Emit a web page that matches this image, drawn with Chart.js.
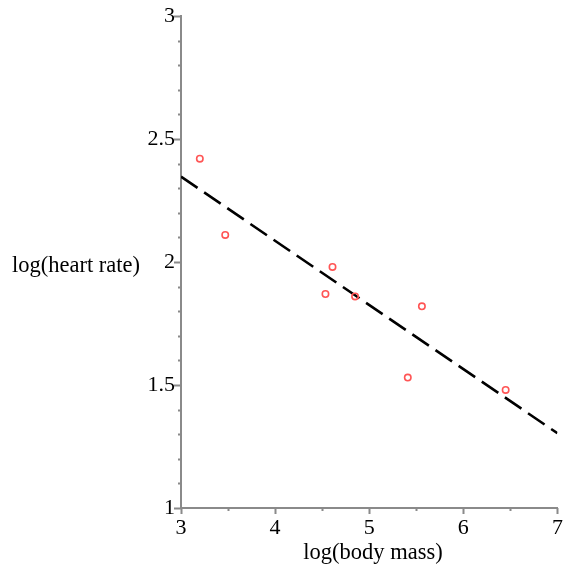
<!DOCTYPE html>
<html>
<head>
<meta charset="utf-8">
<script src="https://cdn.jsdelivr.net/npm/chart.js@4/dist/chart.umd.min.js"></script>
<style>
	body { margin: 0; background: #fff; }
	canvas { display: block; }
</style>
</head>
<body>
<canvas id="heartChart" width="563" height="565"></canvas>
<script>
// log(body mass) vs log(heart rate)
const massX = [3.2, 3.47, 4.61, 4.535, 4.85, 5.56, 5.41, 6.45]
const heartY = [2.42, 2.11, 1.98, 1.87, 1.86, 1.82, 1.53, 1.48]
// fitted line end points
const fitX = [3, 7]
const fitY = [2.347, 1.304]

const xTitle = 'log(body mass)'
const yTitle = 'log(heart rate)'

const axisGrey = '#8a8a8a'
const serif = "'Liberation Serif', 'Times New Roman', serif"

// minor / major tick marks drawn by hand (Chart.js has one length only)
const tickMarks = {
	id: 'tickMarks',
	afterDraw(chart) {
		const c = chart.ctx
		const xs = chart.scales.x
		const ys = chart.scales.y
		const left = chart.chartArea.left
		const bottom = chart.chartArea.bottom
		c.save()
		c.strokeStyle = axisGrey
		c.lineWidth = 2
		c.beginPath()
		for (let i = 0; i <= 20; i++) {
			const v = 1 + i * 0.1
			const py = Math.round(ys.getPixelForValue(v)) + 0.5
			const len = i % 5 === 0 ? 7 : 3
			c.moveTo(left, py)
			c.lineTo(left - len, py)
		}
		for (let i = 0; i <= 8; i++) {
			const v = 3 + i * 0.5
			const px = Math.round(xs.getPixelForValue(v)) + 0.5
			const len = i % 2 === 0 ? 6 : 3
			c.moveTo(px, bottom)
			c.lineTo(px, bottom + len)
		}
		c.stroke()

		// axis titles, y one kept horizontal like the original
		c.fillStyle = '#000'
		c.font = '22.5px ' + serif
		c.textBaseline = 'middle'
		c.textAlign = 'left'
		c.fillText(yTitle, 12, 266)
		c.textAlign = 'center'
		c.fillText(xTitle, 373, 553)
		c.restore()
	},
}

const ctx = document.getElementById('heartChart')

const heartChart = new Chart(ctx, {
	type: 'scatter',
	data: {
		datasets: [
			{
				label: 'data',
				data: massX.map((x, i) => ({ x: x, y: heartY[i] })),
				pointRadius: 3.2,
				pointBorderWidth: 1.6,
				borderColor: 'rgb(255, 85, 85)',
				backgroundColor: 'rgba(0,0,0,0)',
			},
			{
				label: 'fit',
				data: fitX.map((x, i) => ({ x: x, y: fitY[i] })),
				showLine: true,
				pointRadius: 0,
				borderColor: '#000',
				borderWidth: 2.6,
				borderDash: [20, 8],
			},
		],
	},
	options: {
		responsive: false,
		animation: false,
		layout: { padding: { left: 0, right: 5, top: 16, bottom: 0 } },
		plugins: {
			legend: { display: false },
			tooltip: { enabled: false },
		},
		scales: {
			x: {
				type: 'linear',
				min: 3,
				max: 7,
				grid: { drawOnChartArea: false, drawTicks: false },
				border: { color: axisGrey, width: 2 },
				ticks: {
					stepSize: 1,
					padding: 7,
					color: '#000',
					font: { family: serif, size: 22 },
				},
				afterFit(scale) {
					scale.height = 57
					scale.paddingLeft = 0
					scale.paddingRight = 0
				},
			},
			y: {
				min: 1,
				max: 3,
				grid: { drawOnChartArea: false, drawTicks: false },
				border: { color: axisGrey, width: 2 },
				ticks: {
					stepSize: 0.5,
					padding: 6,
					color: '#000',
					font: { family: serif, size: 22 },
					callback: (v) => String(+v.toFixed(1)),
				},
				afterFit(scale) {
					scale.width = 181
					scale.paddingTop = 0
					scale.paddingBottom = 0
				},
			},
		},
	},
	plugins: [tickMarks],
})
</script>
</body>
</html>
